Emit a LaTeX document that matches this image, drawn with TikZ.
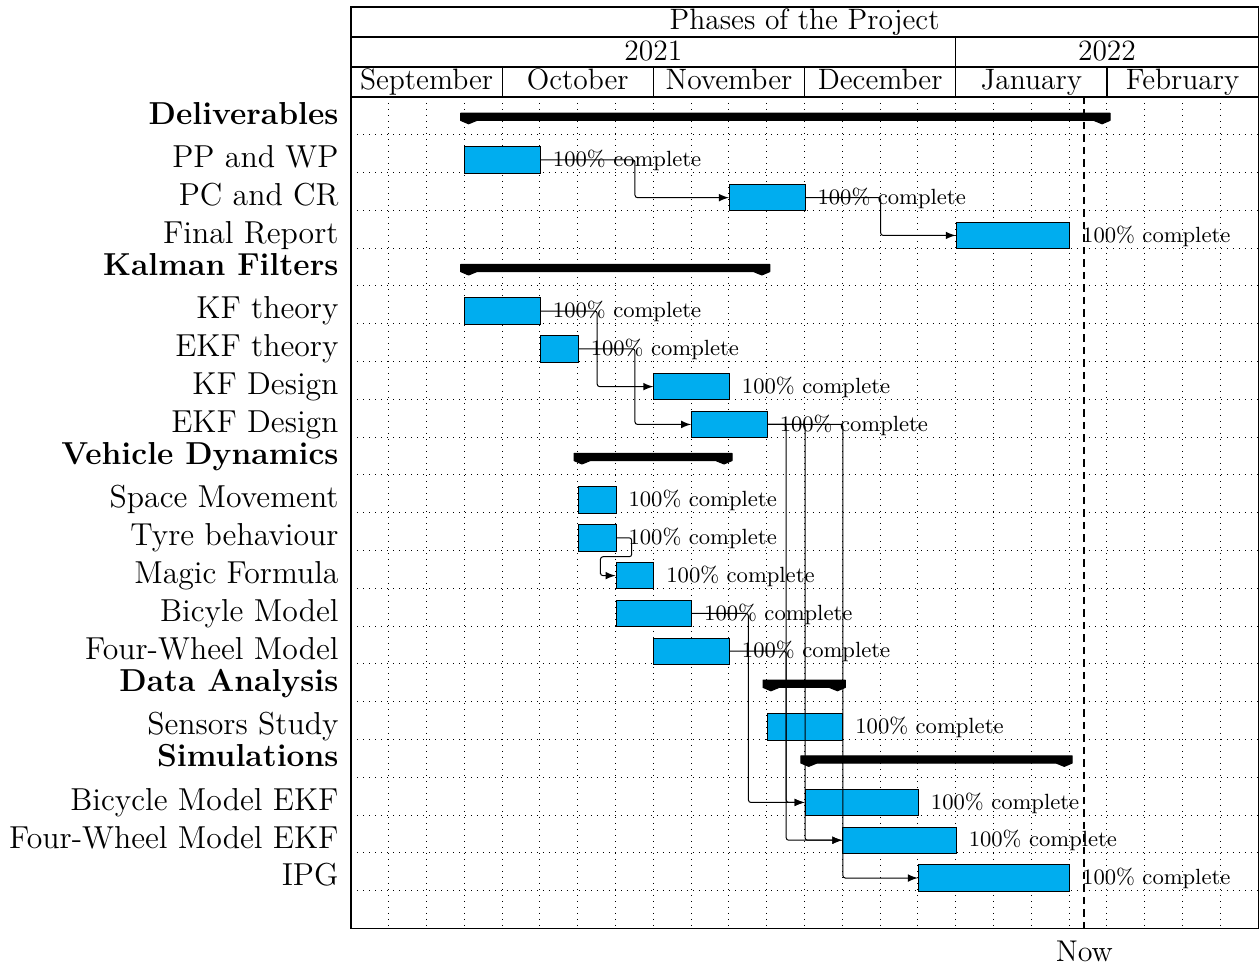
\documentclass[tikz,border=0pt]{standalone}
\usepackage{fontspec}
\usetikzlibrary{calc}
\definecolor{barblue}{RGB}{0,173,239}
\tikzset{
  task/.style       = {draw, fill=barblue, line width=0.4pt, inner sep=0pt,
                       minimum height=10.58pt, anchor=north west},
  weeks/.style      = {minimum width=#1*15.12pt},
  tasklabel/.style  = {anchor=base east, inner sep=0pt,
                       font=\fontsize{12.7}{14}\selectfont},
  grouplabel/.style = {tasklabel, font=\fontsize{12.7}{14}\selectfont\bfseries},
  progress/.style   = {anchor=base west, inner sep=0pt, xshift=4.6pt, yshift=-2.7pt,
                       font=\fontsize{8.8}{11}\selectfont},
  header/.style     = {anchor=base, inner sep=0pt,
                       font=\fontsize{11.8}{13}\selectfont},
  link/.style       = {-latex, rounded corners=1pt, line width=0.4pt},
  groupbar/.style   = {fill=black, draw=black, line width=0.4pt, line join=round},
  gridline/.style   = {dotted, line width=0.4pt},
  nowline/.style    = {line width=0.9pt, dash pattern=on 3pt off 2pt}
}
% group bar with peaks: row, first week, last week
\newcommand{\groupbar}[3]{%
  \filldraw[groupbar] (#2-0.1,#1+0.43) -- (#3+0.08,#1+0.43) -- (#3+0.08,#1+0.62)
    -- (#3-0.13,#1+0.71) -- (#3-0.35,#1+0.62) -- (#2+0.33,#1+0.62)
    -- (#2+0.11,#1+0.71) -- (#2-0.1,#1+0.62) -- cycle;}

\begin{document}
\begin{tikzpicture}[x=15.12pt, y=-15.12pt]
  \useasboundingbox (-9.286,-2.566) rectangle (24.048,23.016);

  % grid
  \foreach \i in {1,...,23} \draw[gridline] (\i,0) -- (\i,22);
  \foreach \j in {1,...,21} \draw[gridline] (0,\j) -- (24,\j);

  % header
  \draw[line width=0.5pt] (0,-2.381) rectangle (24,22);
  \draw[line width=0.5pt] (0,-1.587) -- (24,-1.587);
  \draw[line width=0.5pt] (0,-0.794) -- (24,-0.794);
  \draw[line width=0.5pt] (0,0) -- (24,0);
  \draw[line width=0.5pt] (16,-1.587) -- (16,0);
  \foreach \m in {4,8,12,20} \draw[line width=0.5pt] (\m,-0.794) -- (\m,0);

  \node[header] (title) at (12,-1.786) {Phases of the Project};
  \node[header] (y2021) at (8,-0.952) {2021};
  \node[header] (y2022) at (20,-0.952) {2022};
  \node[header] (sep) at (2,-0.185) {September};
  \node[header] (oct) at (6,-0.185) {October};
  \node[header] (nov) at (10,-0.185) {November};
  \node[header] (dec) at (14,-0.185) {December};
  \node[header] (jan) at (18,-0.185) {January};
  \node[header] (feb) at (22,-0.185) {February};

  % labels
  \node[grouplabel] (deliv)  at (-0.317,0.72)  {Deliverables};
  \node[tasklabel]  (ppwp-l) at (-0.317,1.87)  {PP and WP};
  \node[tasklabel]  (pccr-l) at (-0.317,2.87)  {PC and CR};
  \node[tasklabel]  (final-l) at (-0.317,3.87) {Final Report};
  \node[grouplabel] (kalman) at (-0.317,4.72)  {Kalman Filters};
  \node[tasklabel]  (kft-l)  at (-0.317,5.87)  {KF theory};
  \node[tasklabel]  (ekft-l) at (-0.317,6.87)  {EKF theory};
  \node[tasklabel]  (kfd-l)  at (-0.317,7.87)  {KF Design};
  \node[tasklabel]  (ekfd-l) at (-0.317,8.87)  {EKF Design};
  \node[grouplabel] (vehicle) at (-0.317,9.72) {Vehicle Dynamics};
  \node[tasklabel]  (space-l) at (-0.317,10.87) {Space Movement};
  \node[tasklabel]  (tyre-l) at (-0.317,11.87) {Tyre behaviour};
  \node[tasklabel]  (magic-l) at (-0.317,12.87) {Magic Formula};
  \node[tasklabel]  (bicy-l) at (-0.317,13.87) {Bicyle Model};
  \node[tasklabel]  (four-l) at (-0.317,14.87) {Four-Wheel Model};
  \node[grouplabel] (data)   at (-0.317,15.72) {Data Analysis};
  \node[tasklabel]  (sens-l) at (-0.317,16.87) {Sensors Study};
  \node[grouplabel] (simul)  at (-0.317,17.72) {Simulations};
  \node[tasklabel]  (bicyekf-l) at (-0.317,18.87) {Bicycle Model EKF};
  \node[tasklabel]  (fourekf-l) at (-0.317,19.87) {Four-Wheel Model EKF};
  \node[tasklabel]  (ipg-l)  at (-0.317,20.87) {IPG};

  % groups
  \groupbar{0}{3}{20}
  \groupbar{4}{3}{11}
  \groupbar{9}{6}{10}
  \groupbar{15}{11}{13}
  \groupbar{17}{12}{19}

  % tasks
  \node[task, weeks=2] (ppwp)    at (3,1.3)   {};
  \node[task, weeks=2] (pccr)    at (10,2.3)  {};
  \node[task, weeks=3] (final)   at (16,3.3)  {};
  \node[task, weeks=2] (kft)     at (3,5.3)   {};
  \node[task, weeks=1] (ekft)    at (5,6.3)   {};
  \node[task, weeks=2] (kfd)     at (8,7.3)   {};
  \node[task, weeks=2] (ekfd)    at (9,8.3)   {};
  \node[task, weeks=1] (space)   at (6,10.3)  {};
  \node[task, weeks=1] (tyre)    at (6,11.3)  {};
  \node[task, weeks=1] (magic)   at (7,12.3)  {};
  \node[task, weeks=2] (bicy)    at (7,13.3)  {};
  \node[task, weeks=2] (four)    at (8,14.3)  {};
  \node[task, weeks=2] (sens)    at (11,16.3) {};
  \node[task, weeks=3] (bicyekf) at (12,18.3) {};
  \node[task, weeks=3] (fourekf) at (13,19.3) {};
  \node[task, weeks=4] (ipg)     at (15,20.3) {};

  % progress
  \foreach \t in {ppwp,pccr,final,kft,ekft,kfd,ekfd,space,tyre,magic,bicy,four,sens,bicyekf,fourekf,ipg}
    \node[progress] (\t-p) at (\t.east) {100\% complete};

  % links
  \draw[link] (ppwp.east) -| ($(ppwp.east)!.5!(pccr.west)$) |- (pccr.west);
  \draw[link] (pccr.east) -| ($(pccr.east)!.5!(final.west)$) |- (final.west);
  \draw[link] (kft.east) -| ($(kft.east)!.5!(kfd.west)$) |- (kfd.west);
  \draw[link] (ekft.east) -| ($(ekft.east)!.5!(ekfd.west)$) |- (ekfd.west);
  \draw[link] (tyre.east) -- ++(0.4,0) |- ($(tyre.east)!.5!(magic.west)$)
    -| ($(magic.west)+(-0.4,0)$) |- (magic.west);
  \draw[link] (bicy.east) -| ($(bicy.east)!.5!(bicyekf.west)$) |- (bicyekf.west);
  \draw[link] (four.east) -| ($(four.east)!.5!(fourekf.west)$) |- (fourekf.west);
  \draw[link] (ekfd.east) -| ($(ekfd.east)!.5!(bicyekf.west)$) |- (bicyekf.west);
  \draw[link] (ekfd.east) -| ($(ekfd.east)!.5!(fourekf.west)$) |- (fourekf.west);
  \draw[link] (ekfd.east) -| ($(ekfd.east)!.5!(ipg.west)$) |- (ipg.west);

  % today
  \coordinate (nowtop) at (19.4,0);
  \coordinate (nowbot) at (19.4,22);
  \draw[nowline] (nowtop) -- (nowbot);
  \node[header, font=\fontsize{12}{13}\selectfont] (now) at (19.4,22.875) {Now};
\end{tikzpicture}
\end{document}
